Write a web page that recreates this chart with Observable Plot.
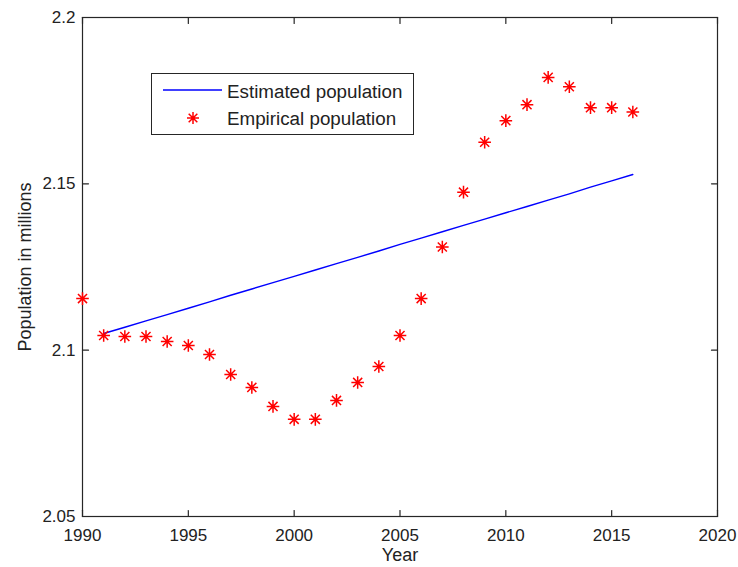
<!DOCTYPE html>
<html>
<head>
<meta charset="utf-8">
<script src="https://cdn.jsdelivr.net/npm/d3@7"></script>
<script src="https://cdn.jsdelivr.net/npm/@observablehq/plot@0.6"></script>
<style>
  html, body { margin: 0; padding: 0; background: #fff; }
  #wrap { position: relative; width: 738px; height: 567px; font-family: "Liberation Sans", Arial, sans-serif; }
  #legend { position: absolute; left: 151px; top: 73px; width: 263px; height: 62px; border: 1px solid #262626; background: #fff; box-sizing: border-box; }
</style>
</head>
<body>
<div id="wrap"></div>
<script>
// Empirical population (millions), years 1990–2016
const empYears = [1990,1991,1992,1993,1994,1995,1996,1997,1998,1999,2000,2001,2002,2003,2004,2005,2006,2007,2008,2009,2010,2011,2012,2013,2014,2015,2016];
const empValues = [2.1155,2.1044,2.1041,2.1041,2.1026,2.1014,2.0987,2.0927,2.0888,2.0831,2.0792,2.0792,2.0849,2.0903,2.0951,2.1044,2.1155,2.1310,2.1475,2.1625,2.1690,2.1738,2.1820,2.1792,2.1729,2.1729,2.1716];
// Estimated population (millions), years 1991–2016
const estYears = [1991,1992,1993,1994,1995,1996,1997,1998,1999,2000,2001,2002,2003,2004,2005,2006,2007,2008,2009,2010,2011,2012,2013,2014,2015,2016];
const estValues = [2.1050,2.1069,2.1088,2.1107,2.1126,2.1145,2.1165,2.1184,2.1203,2.1222,2.1241,2.1260,2.1279,2.1298,2.1318,2.1337,2.1356,2.1375,2.1394,2.1413,2.1432,2.1451,2.1470,2.1490,2.1509,2.1528];
const xTicks = [1990,1995,2000,2005,2010,2015,2020];
const yTicks = [2.05,2.1,2.15,2.2];
const yTickLabels = ["2.05","2.1","2.15","2.2"];
const seriesNames = ["Estimated population","Empirical population"];

const emp = empYears.map((y, i) => ({year: y, value: empValues[i]}));
const est = estYears.map((y, i) => ({year: y, value: estValues[i]}));

const asterisk = {
  draw(context, size) {
    const r = Math.sqrt(size / Math.PI);
    const d = r * 0.72;
    context.moveTo(-r, 0); context.lineTo(r, 0);
    context.moveTo(0, -r); context.lineTo(0, r);
    context.moveTo(-d, -d); context.lineTo(d, d);
    context.moveTo(-d, d); context.lineTo(d, -d);
  }
};

const axisColor = "#262626";
const tickLen = 6;
const tickShape = {draw(c, l) { c.moveTo(0, 0); c.lineTo(0, -l); }};

const chart = Plot.plot({
  width: 738,
  height: 567,
  marginLeft: 82,
  marginRight: 21,
  marginTop: 17,
  marginBottom: 51,
  style: {fontFamily: "'Liberation Sans', Arial, sans-serif", fontSize: "17px", color: "#222", background: "#fff"},
  x: {domain: [1990, 2020]},
  y: {domain: [2.05, 2.2]},
  marks: [
    Plot.frame({stroke: axisColor, strokeWidth: 1.2}),
    // inward ticks on all four sides
    Plot.vector(xTicks, {x: d => d, frameAnchor: "bottom", length: tickLen, rotate: 0, anchor: "start", stroke: axisColor, strokeWidth: 1.2, shape: tickShape}),
    Plot.vector(xTicks, {x: d => d, frameAnchor: "top", length: tickLen, rotate: 180, anchor: "start", stroke: axisColor, strokeWidth: 1.2, shape: tickShape}),
    Plot.vector(yTicks, {y: d => d, frameAnchor: "left", length: tickLen, rotate: 90, anchor: "start", stroke: axisColor, strokeWidth: 1.2, shape: tickShape}),
    Plot.vector(yTicks, {y: d => d, frameAnchor: "right", length: tickLen, rotate: -90, anchor: "start", stroke: axisColor, strokeWidth: 1.2, shape: tickShape}),
    Plot.axisX({ticks: xTicks, tickSize: 0, tickPadding: 12, tickFormat: d => String(d), label: null, fontSize: 17}),
    Plot.axisY({ticks: yTicks, tickSize: 0, tickPadding: 7, tickFormat: d => yTickLabels[yTicks.indexOf(d)], label: null, fontSize: 17}),
    Plot.text(["Year"], {frameAnchor: "bottom", dy: 39, text: d => d, fontSize: 18, fill: "#222", lineAnchor: "middle"}),
    Plot.text(["Population in millions"], {frameAnchor: "left", dx: -57, rotate: -90, textAnchor: "middle", text: d => d, fontSize: 18, fill: "#222", lineAnchor: "middle"}),
    Plot.line(est, {x: "year", y: "value", stroke: "#0000ff", strokeWidth: 1.4}),
    Plot.dot(emp, {x: "year", y: "value", symbol: asterisk, r: 6.3, stroke: "#ff0000", strokeWidth: 1.5})
  ]
});

const wrap = document.getElementById("wrap");
wrap.appendChild(chart);

// legend
const ns = "http://www.w3.org/2000/svg";
const leg = document.createElement("div");
leg.id = "legend";
const lsvg = document.createElementNS(ns, "svg");
lsvg.setAttribute("width", 261);
lsvg.setAttribute("height", 60);
lsvg.style.display = "block";
const ln = document.createElementNS(ns, "line");
ln.setAttribute("x1", 11); ln.setAttribute("x2", 70);
ln.setAttribute("y1", 16); ln.setAttribute("y2", 16);
ln.setAttribute("stroke", "#0000ff"); ln.setAttribute("stroke-width", 1.4);
lsvg.appendChild(ln);
const st = document.createElementNS(ns, "path");
const r = 6, d = r * 0.72;
st.setAttribute("d", `M${-r},0L${r},0M0,${-r}L0,${r}M${-d},${-d}L${d},${d}M${-d},${d}L${d},${-d}`);
st.setAttribute("transform", "translate(41,44)");
st.setAttribute("stroke", "#ff0000"); st.setAttribute("stroke-width", 1.5); st.setAttribute("fill", "none");
lsvg.appendChild(st);
seriesNames.forEach((name, i) => {
  const t = document.createElementNS(ns, "text");
  t.setAttribute("x", 75);
  t.setAttribute("y", i === 0 ? 24 : 51);
  t.setAttribute("font-size", 18.8);
  t.setAttribute("fill", "#222");
  t.setAttribute("font-family", "'Liberation Sans', Arial, sans-serif");
  t.textContent = name;
  lsvg.appendChild(t);
});
leg.appendChild(lsvg);
wrap.appendChild(leg);
</script>
</body>
</html>
